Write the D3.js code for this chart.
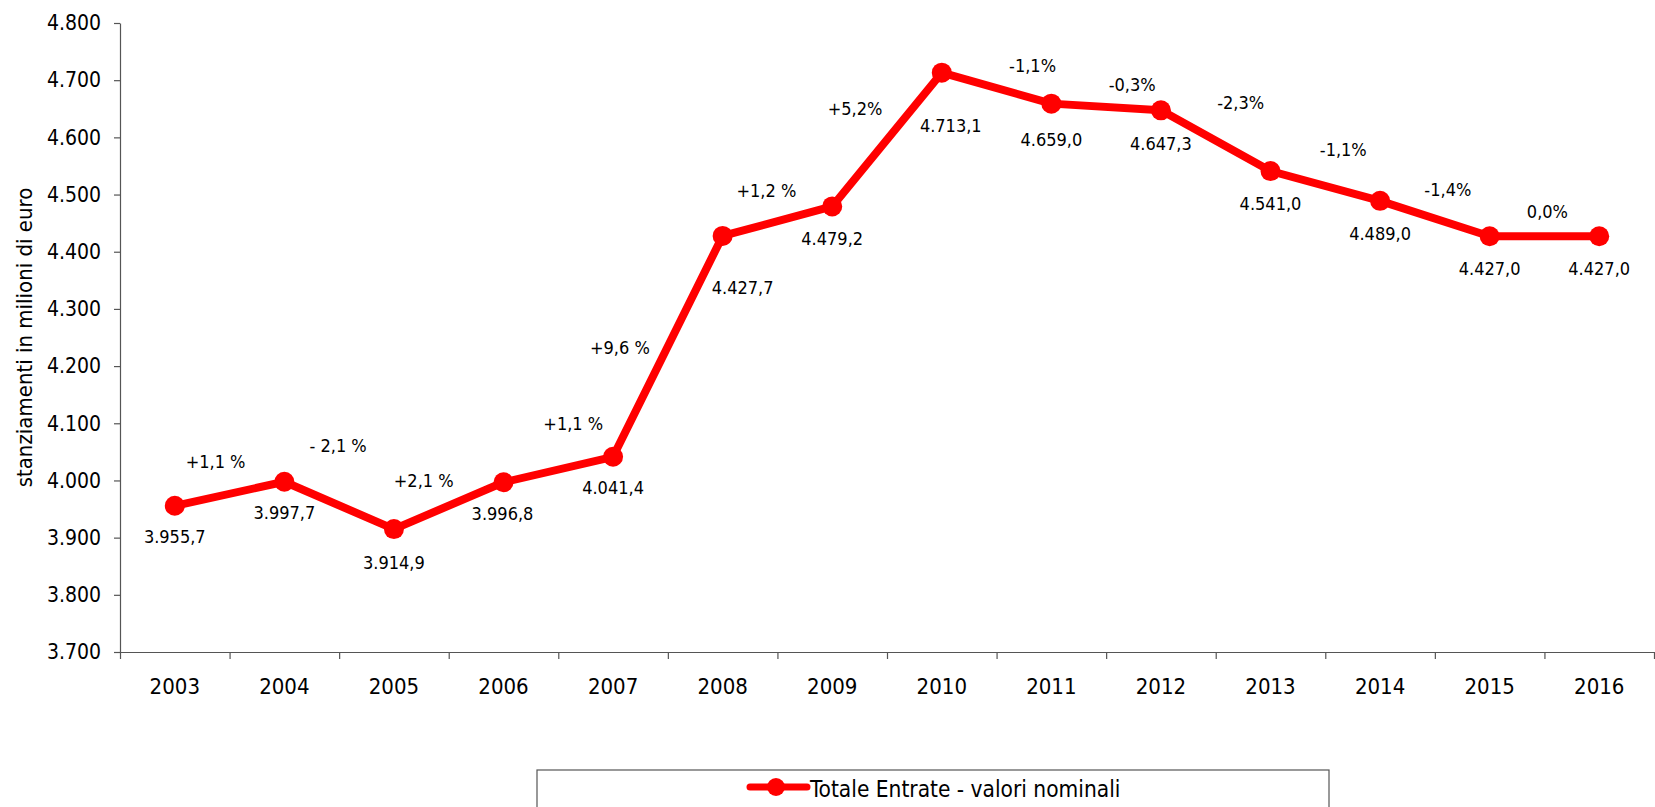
<!DOCTYPE html>
<html>
<head>
<meta charset="utf-8">
<script src="https://cdn.jsdelivr.net/npm/d3@7"></script>
<style>
    body { margin: 0; background: #fff; }
    svg text { font-family: "DejaVu Sans Condensed", "DejaVu Sans", sans-serif; font-stretch: condensed; fill: #000; }
    .axis path, .axis line { stroke: #555; stroke-width: 1.2; }
</style>
</head>
<body>
<div id="chart"></div>
<script>
// data
let years = ["2003", "2004", "2005", "2006", "2007", "2008", "2009",
             "2010", "2011", "2012", "2013", "2014", "2015", "2016"];
let entrate = [3955.7, 3997.7, 3914.9, 3996.8, 4041.4, 4427.7, 4479.2,
               4713.1, 4659.0, 4647.3, 4541.0, 4489.0, 4427.0, 4427.0];
// year on year change, as written on the chart (between two points)
let variazioni = ["+1,1 %", "- 2,1 %", "+2,1 %", "+1,1 %", "+9,6 %", "+1,2 %", "+5,2%",
                  "-1,1%", "-0,3%", "-2,3%", "-1,1%", "-1,4%", "0,0%"];
let yTicks = [3700, 3800, 3900, 4000, 4100, 4200, 4300, 4400, 4500, 4600, 4700, 4800];
let seriesName = "Totale Entrate - valori nominali";
let yTitle = "stanziamenti in milioni di euro";

// hand placed labels: offsets from the point (values) / from segment midpoint (changes)
let valueOffsets = [[0, 31], [0, 31], [0, 33], [-1, 31], [0, 31], [20, 52], [0, 32],
                    [9, 53], [0, 36], [0, 33], [0, 32], [0, 33], [0, 32], [0, 32]];
let changeOffsets = [[-14, -32], [-1, -60], [-25, -25], [15, -46], [-48, 1], [-11, -31], [-32, -31],
                     [36, -23], [26, -22], [25, -38], [18, -36], [13, -29], [3, -25]];

let width = 1655, height = 807;
let margin = {top: 23, left: 120, right: 1, bottom: 155};
let red = "#ff0000";

let it = d3.formatLocale({decimal: ",", thousands: ".", grouping: [3], currency: ["", " €"]});
let fmtTick = it.format(",.0f");
let fmtVal = it.format(",.1f");

let svg = d3.select("#chart").append("svg")
    .attr("width", width)
    .attr("height", height);

let x = d3.scaleBand()
    .domain(years)
    .range([margin.left, width - margin.right]);

let xEdge = d3.scaleLinear()
    .domain([0, years.length])
    .range([margin.left, width - margin.right]);

let y = d3.scaleLinear()
    .domain([3700, 4800])
    .range([height - margin.bottom, margin.top]);

let cx = (d, i) => x(years[i]) + x.bandwidth() / 2;

//AXES
let yAxis = d3.axisLeft(y)
    .tickValues(yTicks)
    .tickFormat(fmtTick)
    .tickSize(6)
    .tickSizeOuter(0)
    .tickPadding(13);

let yAx = svg.append("g")
    .attr("class", "axis")
    .attr("transform", "translate(" + margin.left + ",0)")
    .call(yAxis);
yAx.selectAll("text").style("font-size", "21px");

let xTicks = svg.append("g")
    .attr("class", "axis")
    .attr("transform", "translate(0," + y(3700) + ")")
    .call(d3.axisBottom(xEdge).ticks(years.length).tickFormat("").tickSize(7).tickSizeOuter(0));

let xLabels = svg.append("g")
    .attr("class", "axis")
    .attr("transform", "translate(0," + y(3700) + ")")
    .call(d3.axisBottom(x).tickSize(0).tickPadding(26));
xLabels.select(".domain").remove();
xLabels.selectAll("text").style("font-size", "22px");

svg.append("text")
    .attr("transform", "translate(32," + ((y(3700) + y(4800)) / 2) + ") rotate(-90)")
    .attr("text-anchor", "middle")
    .style("font-size", "22px")
    .text(yTitle);

//LINE
let line = d3.line()
    .x(cx)
    .y((d) => y(d));

svg.append("path")
    .datum(entrate)
    .attr("fill", "none")
    .attr("stroke", red)
    .attr("stroke-width", 8)
    .attr("stroke-linejoin", "round")
    .attr("d", line);

svg.selectAll("circle.pt")
    .data(entrate)
    .enter().append("circle")
    .attr("class", "pt")
    .attr("cx", cx)
    .attr("cy", (d) => y(d))
    .attr("r", 10)
    .attr("fill", red);

//LABELS
svg.selectAll("text.val")
    .data(entrate)
    .enter().append("text")
    .attr("class", "val")
    .attr("text-anchor", "middle")
    .attr("x", (d, i) => cx(d, i) + valueOffsets[i][0])
    .attr("y", (d, i) => y(d) + valueOffsets[i][1])
    .attr("dy", "0.36em")
    .style("font-size", "18px")
    .text((d) => fmtVal(d));

svg.selectAll("text.chg")
    .data(variazioni)
    .enter().append("text")
    .attr("class", "chg")
    .attr("text-anchor", "middle")
    .attr("x", (d, i) => (cx(0, i) + cx(0, i + 1)) / 2 + changeOffsets[i][0])
    .attr("y", (d, i) => (y(entrate[i]) + y(entrate[i + 1])) / 2 + changeOffsets[i][1])
    .attr("dy", "0.36em")
    .style("font-size", "18px")
    .text((d) => d);

//LEGEND
let legend = svg.append("g").attr("transform", "translate(537,770)");
legend.append("rect")
    .attr("width", 792)
    .attr("height", 60)
    .attr("fill", "#fff")
    .attr("stroke", "#555")
    .attr("stroke-width", 1.2);
legend.append("line")
    .attr("x1", 213).attr("x2", 270)
    .attr("y1", 17).attr("y2", 17)
    .attr("stroke", red)
    .attr("stroke-width", 7)
    .attr("stroke-linecap", "round");
legend.append("circle")
    .attr("cx", 239).attr("cy", 17)
    .attr("r", 9)
    .attr("fill", red);
legend.append("text")
    .attr("x", 273)
    .attr("y", 19)
    .attr("dy", "0.36em")
    .style("font-size", "22.5px")
    .text(seriesName);
</script>
</body>
</html>
